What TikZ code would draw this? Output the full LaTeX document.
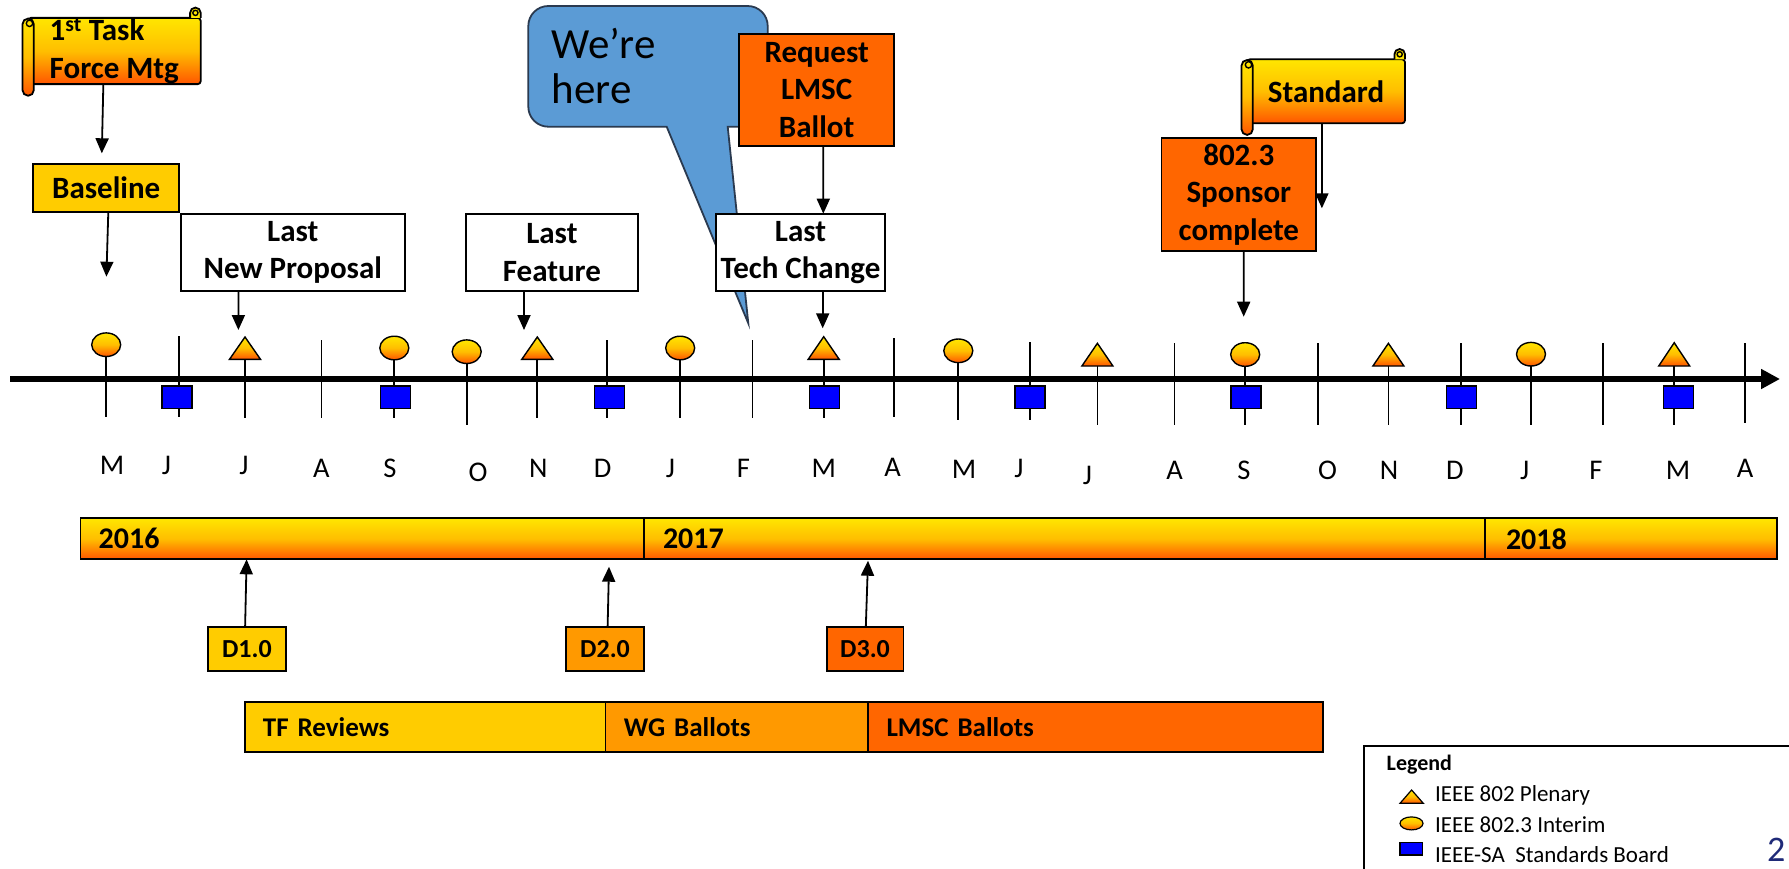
\documentclass[tikz,border=0pt]{standalone}
\usepackage{fontspec}
\setmainfont{Carlito}
\usetikzlibrary{arrows.meta,calc}
\definecolor{gold}{HTML}{FFCC00}
\definecolor{amber}{HTML}{FF9900}
\definecolor{deeporange}{HTML}{FF6600}
\definecolor{grtop}{HTML}{FFE600}
\definecolor{grmid}{HTML}{FFBE00}
\definecolor{grbot}{HTML}{FF5500}
\definecolor{bubblefill}{HTML}{5B9BD5}
\definecolor{bubbleline}{HTML}{2A3A50}
\definecolor{sqblue}{HTML}{0000FF}
\definecolor{pagenum}{HTML}{1F2A78}
\newcommand{\bfL}{\fontsize{31}{37.5}\selectfont\bfseries}
\newcommand{\yrF}{\fontsize{30}{30}\selectfont\bfseries}
\newcommand{\phF}{\fontsize{27}{27}\selectfont\bfseries}
\newcommand{\dF}{\fontsize{26}{26}\selectfont\bfseries}
\newcommand{\bubF}{\fontsize{43}{45}\selectfont}
\newcommand{\legF}{\fontsize{23}{23}\selectfont}
\newcommand{\legT}{\fontsize{22}{22}\selectfont\bfseries}
\newcommand{\scrolldeco}[1]{%
  \path[scrollshade, rounded corners=5.6pt] ($(#1.north west)+(-5.5,0.7)$) rectangle ($(#1.south west)+(5.8,11.6)$);
  \draw[line width=1.4pt] ($(#1.north west)+(1.5,5.5)$) circle[radius=3.2];
  \path[draw=black, line width=1.8pt, fill=grtop] ($(#1.north east)+(-10.6,0)$) -- ($(#1.north east)+(-10.6,-5)$) arc[start angle=180,end angle=360,radius=5.3] -- (#1.north east);
  \draw[line width=1.4pt] ($(#1.north east)+(-5.3,-5)$) circle[radius=2.6];
}
\begin{document}
\begin{tikzpicture}[x=1pt,y=-1pt,
  every node/.style={inner sep=0pt, outer sep=0pt},
  shadeyo/.style={top color=grtop, bottom color=grbot, middle color=grmid},
  boxlbl/.style={draw=black, line width=1.8pt, align=center, font=\bfL},
  conn/.style={draw=black, line width=1.8pt, -{Triangle[length=15pt,width=13pt]}},
  barseg/.style={draw=black, line width=1.8pt, anchor=west, align=left, minimum height=41pt},
  scrollshade/.style={draw=black, line width=1.8pt, shadeyo},
  scrollbody/.style={draw=black, line width=1.8pt, shadeyo, rounded corners=3pt},
  monthtick/.style={line width=1.8pt},
  monthlbl/.style={font=\fontsize{28.5}{28.5}\selectfont, anchor=base},
  markshade/.style={draw=black, line width=1.4pt, shadeyo},
  sqmark/.style={draw=black, line width=1.4pt, fill=sqblue},
]
\useasboundingbox (0,0) rectangle (1789,868);

% ---------- speech bubble (behind) ----------
\path[draw=bubbleline, line width=1.8pt, fill=bubblefill]
  (666.7,126.7) -- (548.3,126.7) arc[start angle=90,end angle=180,radius=20]
  -- (528.3,26) arc[start angle=180,end angle=270,radius=20]
  -- (747.7,6) arc[start angle=270,end angle=360,radius=20]
  -- (767.7,106.7) arc[start angle=0,end angle=90,radius=20]
  -- (727.7,126.7) -- (748.3,323.3) -- cycle;
\node[font=\bubF, align=left, anchor=west] (here) at (551.7,66) {We’re\\here};

% ---------- timeline axis ----------
\coordinate (axs) at (10.3,379);
\coordinate (axe) at (1780,379);
\draw[line width=6.5pt, -{Triangle[length=19pt,width=19pt]}] (axs) -- (axe);

\foreach \x/\t/\b in {106.2/345/417, 179/336/417, 245/348/418, 321.4/340/418, 394.3/348/418,
  466.7/352/425, 537.3/348/418, 607.3/340/418, 680.2/348/418, 752.5/340/418, 823.7/348/418,
  893.7/338/417, 958.3/351/420, 1029.6/342/420, 1097.4/355/425, 1174.5/343/425, 1245.2/354/425,
  1317.7/343/425, 1388.4/355/425, 1460.9/343/425, 1531/354/425, 1602.9/343/425, 1674.2/354/425,
  1744.9/343/423}
  \draw[monthtick] (\x,\t) -- (\x,\b);

\foreach \x/\y in {106.2/344.7, 394.3/348, 466.7/351.7, 680.2/348, 958.3/350.8, 1245.2/354.5, 1531/354.2}
  \path[markshade] (\x,\y) ellipse [x radius=14.5, y radius=11.8];

\foreach \x/\t/\b in {245/337/359.3, 537.3/337/359.3, 823.7/336.7/359.3, 1097.4/343.3/366, 1388.4/343.3/366, 1674.2/342.7/366}
  \path[markshade] (\x-15.5,\b) -- (\x,\t) -- (\x+15.5,\b) -- cycle;

\foreach \x in {176.8, 395.2, 609.5, 824.3, 1029.9, 1246.1, 1461.5, 1678.3}
  \path[sqmark] (\x-15,386) rectangle (\x+15,408.3);

\foreach \x/\b/\l [count=\i] in {112/474/M, 166.5/474/J, 244/474/J, 321.4/477/A, 390/477/S,
  478/481.5/O, 538.4/477/N, 602.7/477/D, 670.4/477/J, 743.3/477/F, 823.7/477/M, 892.6/476/A,
  964/478.5/M, 1019/477.5/J, 1087.5/484/J, 1174.5/479.5/A, 1244/479.5/S, 1327.5/479.5/O, 1389/479.5/N,
  1455/479.5/D, 1524.6/479.5/J, 1596/479.5/F, 1678/479.5/M, 1745/477.5/A}
  \node[monthlbl] (m\i) at (\x,\b) {\l};

% ---------- year bar ----------
\node[barseg, shadeyo, text width=526.9pt, inner xsep=18.3pt, font=\yrF] (y16) at (80.4,538.8) {2016};
\node[barseg, shadeyo, text width=802.5pt, inner xsep=19.1pt, font=\yrF] (y17) at (643.9,538.8) {2017};
\node[barseg, shadeyo, text width=249.6pt, inner xsep=21.4pt, font=\yrF] (y18) at (1484.6,538.8) {2018};

% ---------- phase bar ----------
\node[barseg, fill=gold, minimum height=49.4pt, text width=324.7pt, inner xsep=17.8pt, font=\phF] (ph1) at (245.1,727) {TF Reviews};
\node[barseg, fill=amber, minimum height=49.4pt, text width=225.6pt, inner xsep=18.5pt, font=\phF] (ph2) at (605.4,727) {WG Ballots};
\node[barseg, fill=deeporange, minimum height=49.4pt, text width=418pt, inner xsep=18.5pt, font=\phF] (ph3) at (868,727) {LMSC Ballots};

% ---------- draft boxes ----------
\node[boxlbl, fill=gold, minimum width=77.7pt, minimum height=43.7pt, font=\dF] (d1) at (246.95,649.15) {D1.0};
\node[boxlbl, fill=amber, minimum width=77.7pt, minimum height=43.7pt, font=\dF] (d2) at (605.05,649.15) {D2.0};
\node[boxlbl, fill=deeporange, minimum width=76.9pt, minimum height=43.7pt, font=\dF] (d3) at (865.05,649.15) {D3.0};

% ---------- milestone boxes ----------
\node[scrollbody, minimum width=172.7pt, minimum height=63.4pt, align=left, font=\fontsize{31}{38.3}\selectfont\bfseries] (tf) at (114.35,51) {1\textsuperscript{st} Task\\Force Mtg};
\scrolldeco{tf}
\node[boxlbl, fill=gold, minimum width=145.8pt, minimum height=48pt] (baseline) at (106.2,188) {Baseline};
\node[boxlbl, fill=white, minimum width=224.4pt, minimum height=77.3pt] (newprop) at (292.8,252.35) {Last\\New Proposal};
\node[boxlbl, fill=white, minimum width=171.6pt, minimum height=77.3pt] (feature) at (551.9,252.35) {Last\\Feature};
\node[boxlbl, fill=white, minimum width=169pt, minimum height=77.3pt] (techch) at (800.5,252.35) {Last\\Tech Change};
\node[boxlbl, fill=deeporange, minimum width=154.7pt, minimum height=112pt] (request) at (816.65,90) {Request\\LMSC\\Ballot};
\node[boxlbl, fill=deeporange, minimum width=154.7pt, minimum height=112.4pt] (sponsor) at (1238.85,194.5) {802.3\\Sponsor\\complete};
\node[scrollbody, minimum width=158pt, minimum height=64pt, font=\bfL] (std) at (1326,91.3) {Standard};
\scrolldeco{std}

% ---------- connectors ----------
\coordinate (c1) at (101.8,153.3);
\coordinate (c2) at (106.4,276.7);
\coordinate (c3) at (238.4,330);
\coordinate (c4) at (524,330);
\coordinate (c6) at (822.7,328.3);
\coordinate (c7) at (1321.9,208.3);
\coordinate (c8) at (1243.7,316.7);
\coordinate (c10) at (609,566.7);
\coordinate (c11) at (868,560.7);
\draw[conn] ([xshift=-11pt]tf.south) -- (c1);
\draw[conn] ([xshift=2.1pt]baseline.south) -- (c2);
\draw[conn] ([xshift=-54.4pt]newprop.south) -- (c3);
\draw[conn] ([xshift=-27.9pt]feature.south) -- (c4);
\draw[conn] ([xshift=6.65pt]request.south) -- ([xshift=22.8pt]techch.north);
\draw[conn] ([xshift=22.2pt]techch.south) -- (c6);
\draw[conn] ([xshift=-4.1pt]std.south) -- (c7);
\draw[conn] ([xshift=4.85pt]sponsor.south) -- (c8);
\draw[conn] ([xshift=-1.85pt]d1.north) -- ([xshift=-115.55pt]y16.south);
\draw[conn] ([xshift=2.55pt]d2.north) -- (c10);
\draw[conn] ([xshift=0.75pt]d3.north) -- (c11);

% ---------- legend ----------
\draw[line width=1.8pt] (1364,746) rectangle (1800,880);
\node[font=\legT, anchor=base west] (legend) at (1386.7,770) {Legend};
\path[markshade, line width=1.2pt] (1400,803.3) -- (1411.6,790) -- (1423.3,803.3) -- cycle;
\node[font=\legF, anchor=base west] (lplen) at (1435,801.5) {IEEE 802 Plenary};
\path[markshade, line width=1.2pt] (1411.5,823.4) ellipse [x radius=11.5, y radius=6.5];
\node[font=\legF, anchor=base west] (lint) at (1435,832.5) {IEEE 802.3 Interim};
\path[sqmark, line width=1.2pt] (1400,842.7) rectangle (1422.7,855);
\node[font=\legF, anchor=base west] (lsb) at (1435,862.5) {IEEE-SA\ \ Standards Board};
\node[font=\fontsize{36}{36}\selectfont, text=pagenum, anchor=base west] (pg) at (1767,861) {2};
\end{tikzpicture}
\end{document}
